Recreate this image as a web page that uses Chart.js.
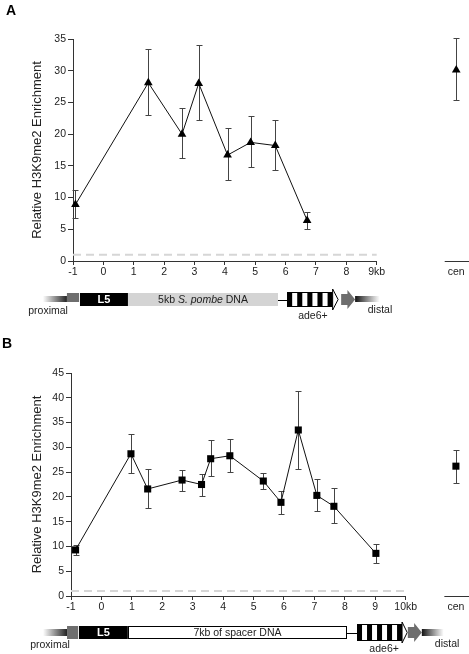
<!DOCTYPE html>
<html>
<head>
<meta charset="utf-8">
<script src="https://cdn.jsdelivr.net/npm/chart.js@4/dist/chart.umd.min.js"></script>
<style>
  body { margin: 0; background: #fff; }
  canvas { display: block; }
</style>
</head>
<body>
<canvas id="chartA" width="469" height="320"></canvas>
<canvas id="chartB" width="469" height="334"></canvas>
<script>
// panel A - 5kb S. pombe DNA insert (triangles)
const posA = [-0.92, 1.48, 2.59, 3.14, 4.09, 4.85, 5.66, 6.71];
const valA = [8.9, 28.1, 20.0, 28.0, 16.7, 18.7, 18.2, 6.4];
const hiA = [11.2, 33.5, 24.1, 34.1, 20.9, 22.9, 22.3, 7.8];
const loA = [6.8, 23.0, 16.2, 22.2, 12.7, 14.8, 14.3, 5.0];
const cenA = [30.1, 35.1, 25.4]; // mean, upper, lower
const xTicksA = [-1, 0, 1, 2, 3, 4, 5, 6, 7, 8, 9];

// panel B - 7kb of spacer DNA (squares)
const posB = [-0.85, 0.97, 1.52, 2.65, 3.29, 3.59, 4.22, 5.32, 5.9, 6.47, 7.08, 7.64, 9.02];
const valB = [9.3, 28.7, 21.6, 23.4, 22.5, 27.7, 28.3, 23.2, 18.9, 33.5, 20.3, 18.1, 8.6];
const hiB = [10.2, 32.7, 25.6, 25.5, 24.6, 31.4, 31.7, 24.9, 21.1, 41.4, 23.6, 21.7, 10.5];
const loB = [8.3, 24.8, 17.7, 21.2, 20.2, 24.2, 25.0, 21.6, 16.6, 25.7, 17.1, 14.7, 6.7];
const cenB = [26.2, 29.4, 22.8];
const xTicksB = [-1, 0, 1, 2, 3, 4, 5, 6, 7, 8, 9, 10];

// background level (dashed line)
const baseline = 1;

const FONT = "'Liberation Sans', Arial, sans-serif";
const INK = '#222';
const AXIS = '#333';

// error bars drawn under the markers
const errorBars = {
  id: 'errorBars',
  beforeDatasetsDraw(chart) {
    const { ctx, scales: { x, y } } = chart;
    ctx.save();
    ctx.strokeStyle = '#444';
    ctx.lineWidth = 1;
    chart.data.datasets.forEach((ds) => {
      if (!ds.errHi) return;
      ds.data.forEach((p, i) => {
        const px = Math.round(x.getPixelForValue(p.x)) + 0.5;
        const top = Math.round(y.getPixelForValue(ds.errHi[i])) + 0.5;
        const bot = Math.round(y.getPixelForValue(ds.errLo[i])) + 0.5;
        ctx.beginPath();
        ctx.moveTo(px, top); ctx.lineTo(px, bot);
        ctx.moveTo(px - 3, top); ctx.lineTo(px + 3, top);
        ctx.moveTo(px - 3, bot); ctx.lineTo(px + 3, bot);
        ctx.stroke();
      });
    });
    ctx.restore();
  }
};

function tail(ctx, x0, x1, y0, y1, fadeLeft) {
  const g = ctx.createLinearGradient(x0, 0, x1, 0);
  g.addColorStop(0, fadeLeft ? 'rgba(40,40,40,0)' : '#111');
  g.addColorStop(1, fadeLeft ? '#222' : 'rgba(40,40,40,0)');
  ctx.fillStyle = g;
  ctx.fillRect(x0, y0, x1 - x0, y1 - y0);
}

// construct map under each panel, positioned in kb on the x scale
const construct = {
  id: 'construct',
  afterDraw(chart, args, o) {
    const { ctx, scales: { x, y } } = chart;
    const X = (v) => x.getPixelForValue(v);
    const d = o.map;
    ctx.save();

    // panel letter
    ctx.fillStyle = '#000';
    ctx.font = 'bold 14px ' + FONT;
    ctx.textBaseline = 'alphabetic';
    ctx.fillText(o.letter, o.letterX, o.letterY);

    // x axis line, split for the cen column
    const y0 = Math.round(y.getPixelForValue(0)) + 0.5;
    ctx.strokeStyle = AXIS;
    ctx.lineWidth = 1;
    ctx.beginPath();
    ctx.moveTo(X(o.axisEnd[0]), y0); ctx.lineTo(X(o.axisEnd[1]), y0);
    ctx.moveTo(X(o.cenLine[0]), y0); ctx.lineTo(X(o.cenLine[1]), y0);
    ctx.stroke();

    const bt = d.boxTop, bb = d.boxBot, mid = (bt + bb) / 2;

    tail(ctx, X(d.tailL[0]), X(d.tailL[1]), d.tailTop, d.tailBot, true);
    ctx.fillStyle = '#6e6e6e';
    ctx.fillRect(X(d.grey[0]), d.greyTop, X(d.grey[1]) - X(d.grey[0]), d.greyBot - d.greyTop);

    // L5
    ctx.fillStyle = '#000';
    ctx.fillRect(X(d.l5[0]), bt, X(d.l5[1]) - X(d.l5[0]), bb - bt);
    ctx.fillStyle = '#fff';
    ctx.font = 'bold 11px ' + FONT;
    ctx.textAlign = 'center';
    ctx.textBaseline = 'middle';
    ctx.fillText('L5', (X(d.l5[0]) + X(d.l5[1])) / 2, mid + 0.5);

    // insert
    const ix0 = X(d.insert[0]), ix1 = X(d.insert[1]);
    ctx.fillStyle = d.insertFill;
    ctx.fillRect(ix0, bt, ix1 - ix0, bb - bt);
    if (d.insertStroke) {
      ctx.strokeStyle = '#000';
      ctx.strokeRect(Math.round(ix0) + 0.5, bt + 0.5, Math.round(ix1 - ix0) - 1, bb - bt - 1);
    }
    ctx.fillStyle = INK;
    const parts = d.insertText;
    let w = 0;
    parts.forEach((p) => { ctx.font = (p[1] ? 'italic ' : '') + '10.5px ' + FONT; w += ctx.measureText(p[0]).width; });
    let tx = (ix0 + ix1) / 2 - w / 2;
    ctx.textAlign = 'left';
    parts.forEach((p) => {
      ctx.font = (p[1] ? 'italic ' : '') + '10.5px ' + FONT;
      ctx.fillText(p[0], tx, mid + 0.5);
      tx += ctx.measureText(p[0]).width;
    });

    // link line
    ctx.strokeStyle = '#000';
    ctx.beginPath();
    ctx.moveTo(X(d.link[0]), Math.round(mid) + 0.5);
    ctx.lineTo(X(d.link[1]), Math.round(mid) + 0.5);
    ctx.stroke();

    // ade6+ striped box
    const ax0 = X(d.ade[0]), ax1 = X(d.ade[1]);
    const n = 9, sw = (ax1 - ax0) / n;
    ctx.fillStyle = '#fff';
    ctx.fillRect(ax0, d.adeTop, ax1 - ax0, d.adeBot - d.adeTop);
    ctx.fillStyle = '#000';
    for (let i = 0; i < n; i += 2) ctx.fillRect(ax0 + i * sw, d.adeTop, sw, d.adeBot - d.adeTop);
    ctx.strokeRect(ax0 + 0.5, d.adeTop + 0.5, ax1 - ax0 - 1, d.adeBot - d.adeTop - 1);
    // open arrow head
    ctx.beginPath();
    ctx.moveTo(ax1, d.headTop);
    ctx.lineTo(X(d.ade[2]), mid);
    ctx.lineTo(ax1, d.headBot);
    ctx.closePath();
    ctx.fillStyle = '#fff';
    ctx.fill();
    ctx.stroke();

    // grey arrow
    const g0 = X(d.arrow[0]), g1 = X(d.arrow[1]), gm = g0 + (g1 - g0) * 0.45;
    ctx.fillStyle = '#6e6e6e';
    ctx.beginPath();
    ctx.moveTo(g0, bt + 1); ctx.lineTo(gm, bt + 1); ctx.lineTo(gm, d.headTop + 1);
    ctx.lineTo(g1, mid);
    ctx.lineTo(gm, d.headBot - 1); ctx.lineTo(gm, bb - 1); ctx.lineTo(g0, bb - 1);
    ctx.closePath();
    ctx.fill();
    tail(ctx, X(d.tailR[0]), X(d.tailR[1]), d.tailTop, d.tailBot, false);

    // labels
    ctx.fillStyle = INK;
    ctx.font = '10.5px ' + FONT;
    ctx.textAlign = 'center';
    ctx.textBaseline = 'alphabetic';
    ctx.fillText('proximal', X(d.proxText[0]), d.proxText[1]);
    ctx.fillText('ade6+', X(d.adeText[0]), d.adeText[1]);
    ctx.fillText('distal', X(d.distText[0]), d.distText[1]);
    ctx.restore();
  }
};

function buildChart(id, p) {
  const series = p.pos.map((x, i) => ({ x: x, y: p.val[i] }));
  const lastTick = p.xTicks[p.xTicks.length - 1];
  return new Chart(document.getElementById(id), {
    type: 'line',
    data: {
      datasets: [
        {
          data: [{ x: -1, y: baseline }, { x: lastTick, y: baseline }],
          borderColor: '#d6d6d6', borderWidth: 2, borderDash: [8, 5],
          pointRadius: 0
        },
        {
          data: series, errHi: p.hi, errLo: p.lo,
          borderColor: '#111', borderWidth: 1,
          pointStyle: p.marker, pointRadius: p.radius,
          pointBackgroundColor: '#000', pointBorderWidth: 0,
          clip: false
        },
        {
          data: [{ x: p.cenPos, y: p.cen[0] }], errHi: [p.cen[1]], errLo: [p.cen[2]],
          showLine: false,
          pointStyle: p.marker, pointRadius: p.radius,
          pointBackgroundColor: '#000', pointBorderWidth: 0,
          clip: false
        }
      ]
    },
    options: {
      responsive: false,
      animation: false,
      layout: { autoPadding: false, padding: { top: p.top, left: 0, right: 0, bottom: 0 } },
      plugins: {
        legend: { display: false },
        tooltip: { enabled: false },
        construct: p.extra
      },
      scales: {
        x: {
          type: 'linear',
          min: -1,
          max: p.xMax,
          afterBuildTicks: (scale) => {
            scale.ticks = p.xTicks.concat([p.cenPos]).map((v) => ({ value: v }));
          },
          afterFit: (scale) => {
            scale.height = p.xHeight;
            scale.paddingLeft = 0;
            scale.paddingRight = 0;
          },
          border: { display: false },
          grid: {
            drawOnChartArea: false,
            tickLength: 4,
            tickColor: (c) => (c.tick && c.tick.value === p.cenPos ? 'rgba(0,0,0,0)' : AXIS)
          },
          ticks: {
            autoSkip: false,
            maxRotation: 0,
            padding: 1,
            color: INK,
            font: { family: FONT, size: 10.5 },
            callback: (v) => (v === p.cenPos ? 'cen' : v === lastTick ? v + 'kb' : v)
          }
        },
        y: {
          min: 0,
          max: p.yMax,
          afterFit: (scale) => { scale.width = p.yWidth; },
          border: { display: true, color: AXIS },
          grid: { drawOnChartArea: false, tickLength: 5, tickColor: AXIS },
          ticks: {
            stepSize: 5,
            padding: 2,
            color: INK,
            font: { family: FONT, size: 10.5 }
          },
          title: {
            display: true,
            text: 'Relative H3K9me2 Enrichment',
            color: INK,
            font: { family: FONT, size: 13 },
            padding: { top: 30, bottom: 0 }
          }
        }
      }
    },
    plugins: [errorBars, construct]
  });
}

buildChart('chartA', {
  pos: posA, val: valA, hi: hiA, lo: loA, cen: cenA, xTicks: xTicksA,
  cenPos: 11.62, xMax: 12.04, yMax: 35, top: 39, xHeight: 59, yWidth: 73,
  marker: 'triangle', radius: 5,
  extra: {
    letter: 'A', letterX: 6, letterY: 15,
    axisEnd: [-1, 9], cenLine: [11.24, 12.04],
    map: {
      boxTop: 293, boxBot: 306,
      tailL: [-1.99, -1.2], tailR: [8.29, 9.1], tailTop: 296, tailBot: 302,
      grey: [-1.2, -0.8], greyTop: 293, greyBot: 302,
      l5: [-0.77, 0.81],
      insert: [0.81, 5.75], insertFill: '#d4d4d4', insertStroke: false,
      insertText: [['5kb ', false], ['S. pombe', true], [' DNA', false]],
      link: [5.75, 6.05],
      ade: [6.05, 7.55, 7.73], adeTop: 292, adeBot: 307, headTop: 289, headBot: 310,
      arrow: [7.83, 8.29],
      proxText: [-1.82, 314], adeText: [6.9, 319], distText: [9.11, 313]
    }
  }
});

buildChart('chartB', {
  pos: posB, val: valB, hi: hiB, lo: loB, cen: cenB, xTicks: xTicksB,
  cenPos: 11.65, xMax: 12.08, yMax: 45, top: 53, xHeight: 58, yWidth: 71,
  marker: 'rect', radius: 5,
  extra: {
    letter: 'B', letterX: 2, letterY: 28,
    axisEnd: [-1, 10], cenLine: [11.27, 12.08],
    map: {
      boxTop: 306, boxBot: 319,
      tailL: [-1.92, -1.13], tailR: [10.53, 11.25], tailTop: 309, tailBot: 316,
      grey: [-1.13, -0.77], greyTop: 306, greyBot: 319,
      l5: [-0.74, 0.87],
      insert: [0.87, 8.07], insertFill: '#fff', insertStroke: true,
      insertText: [['7kb of spacer DNA', false]],
      link: [8.07, 8.4],
      ade: [8.4, 9.88, 10.05], adeTop: 304, adeBot: 321, headTop: 302, headBot: 323,
      arrow: [10.07, 10.53],
      proxText: [-1.69, 328], adeText: [9.29, 332], distText: [11.36, 327]
    }
  }
});
</script>
</body>
</html>
